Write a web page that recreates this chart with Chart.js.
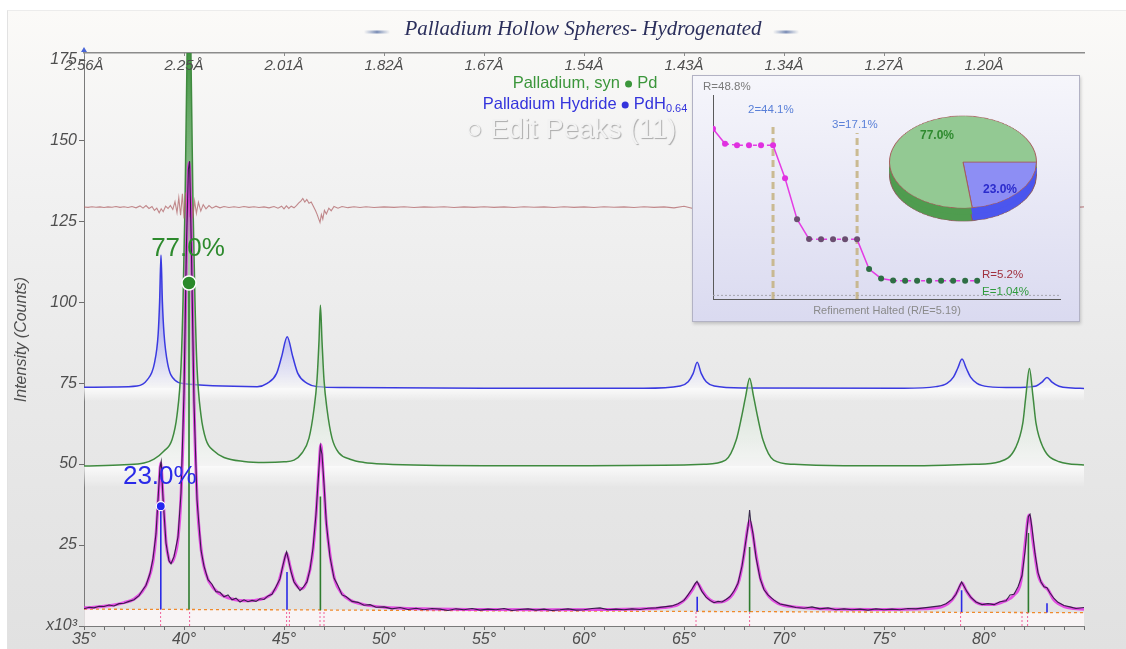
<!DOCTYPE html>
<html>
<head>
<meta charset="utf-8">
<script src="https://cdn.jsdelivr.net/npm/chart.js@4.4.1/dist/chart.umd.min.js"></script>
<style>
  html, body { margin: 0; padding: 0; background: #fff; }
  #wrap { position: relative; width: 1126px; height: 649px; overflow: hidden; }
  #panel { position: absolute; left: 7px; top: 10px; width: 1119px; height: 639px;
           background: linear-gradient(#fbfaf8 0%, #f2f2f2 25%, #e9e9e9 58%, #e1e1e1 100%);
           border-left: 1px solid #e2e2e2; border-top: 1px solid #ececec; }
  #main { position: absolute; left: 0; top: 0; }
  #inset { position: absolute; left: 692px; top: 75px; width: 386px; height: 245px;
           border: 1px solid #b2b2c4; background: linear-gradient(#f6f6fb, #dadaf0);
           box-shadow: 1px 2px 3px rgba(0,0,0,0.18); }
  .pie { position: absolute; left: 195px; transform: scaleY(0.627); transform-origin: 50% 50%; }
  #rchart { position: absolute; left: 0; top: 0; }
</style>
</head>
<body>
<div id="wrap">
  <div id="panel"></div>
  <canvas id="main" width="1126" height="649"></canvas>
  <div id="inset">
    <canvas class="pie" id="pieSide2" width="150" height="150" style="top:24px"></canvas>
    <canvas class="pie" id="pieSide1" width="150" height="150" style="top:17px"></canvas>
    <canvas class="pie" id="pieTop" width="150" height="150" style="top:11px"></canvas>
    <canvas id="rchart" width="386" height="245"></canvas>
  </div>
</div>
<script>
/* XRD refinement view: Pd / PdH(0.64) hollow spheres, 2-theta scan 35..85 deg */
const SANS = "Arial, 'Liberation Sans', sans-serif";
const SERIF = "'Times New Roman', 'Liberation Serif', serif";
const AXIS_TEXT = '#4e4e4e';

const X_MIN = 35, X_MAX = 85, Y_MAX = 176.9;   // intensity in thousands of counts
const Y_TICKS = [0, 25, 50, 75, 100, 125, 150, 175];

// top axis: d-spacing at the 2-theta major ticks
const TOP_TICKS = [35, 40, 45, 50, 55, 60, 65, 70, 75, 80];
const D_SPACING = ['2.56Å', '2.25Å', '2.01Å', '1.82Å', '1.67Å', '1.54Å', '1.43Å', '1.34Å', '1.27Å', '1.20Å'];

// observed scan [2theta, kcounts]
const OBS = [
  [35.0,5.3],[35.25,5.8],[35.5,5.6],[35.75,6.1],[36.0,6.0],[36.25,6.5],[36.5,6.2],[36.75,6.9],[37.0,7.0],
  [37.25,7.6],[37.5,8.1],[37.75,9.4],[37.9,10.8],[38.1,12.6],[38.3,16.2],[38.45,20.8],[38.6,28.5],
  [38.72,41],[38.8,49],[38.86,50.8],[38.95,39.5],[39.1,25.6],[39.25,20.1],[39.35,19.2],[39.5,21.4],
  [39.7,27.5],[39.85,41],[40.0,72],[40.12,117],[40.22,141],[40.28,143.5],[40.38,113],[40.5,69],
  [40.65,39],[40.85,23.4],[41.0,18.5],[41.2,14.3],[41.4,12.9],[41.6,10.6],[41.8,10.4],[42.0,9.0],
  [42.2,9.6],[42.4,8.1],[42.6,8.6],[42.8,7.4],[43.0,8.1],[43.2,7.5],[43.4,7.9],[43.6,7.6],[43.8,8.4],
  [44.0,8.2],[44.2,9.3],[44.4,9.8],[44.6,12.1],[44.8,14.6],[44.95,18.9],[45.05,21.3],[45.13,22.9],
  [45.22,20.6],[45.35,16.8],[45.5,13.6],[45.65,12.3],[45.8,10.9],[45.95,11.9],[46.15,13.6],[46.3,17.5],
  [46.45,24],[46.6,34.5],[46.72,46],[46.82,55.5],[46.9,53],[47.0,44],[47.12,31.5],[47.3,21.3],
  [47.5,14.8],[47.7,12.4],[47.9,9.6],[48.1,9.1],[48.4,7.6],[48.7,7.3],[49.0,6.4],[49.3,6.6],[49.6,5.8],
  [50.0,5.9],[50.4,5.3],[50.8,5.7],[51.2,5.1],[51.6,5.5],[52.0,5.0],[52.4,5.4],[52.8,5.2],[53.2,4.8],
  [53.6,5.3],[54.0,5.0],[54.4,5.4],[54.8,4.9],[55.2,5.2],[55.6,5.0],[56.0,5.4],[56.4,4.8],[56.8,5.1],
  [57.2,5.3],[57.6,4.9],[58.0,5.2],[58.4,4.8],[58.8,5.0],[59.2,5.3],[59.6,4.9],[60.0,5.0],[60.4,5.4],
  [60.8,5.6],[61.2,5.0],[61.6,5.2],[62.0,5.0],[62.4,5.3],[62.8,5.1],[63.2,5.5],[63.6,5.6],[64.0,5.9],
  [64.4,6.2],[64.7,6.9],[65.0,7.9],[65.2,9.6],[65.4,11.4],[65.55,13.0],[65.65,13.8],[65.75,12.6],
  [65.9,10.6],[66.1,8.9],[66.3,7.9],[66.5,7.2],[66.7,7.6],[66.9,7.4],[67.1,8.2],[67.3,9.1],[67.5,10.8],
  [67.7,13.2],[67.9,18.5],[68.05,24.5],[68.2,30.5],[68.28,35.8],[68.33,32.6],[68.45,28.5],[68.6,21.2],
  [68.8,14.8],[69.0,11.2],[69.2,9.6],[69.5,8.0],[69.8,6.8],[70.2,6.3],[70.6,5.7],[71.0,5.5],[71.4,5.9],
  [71.8,5.3],[72.2,5.6],[72.6,5.0],[73.0,5.3],[73.4,5.0],[73.8,5.2],[74.2,4.9],[74.6,5.3],[75.0,5.0],
  [75.4,5.2],[75.8,5.0],[76.2,5.4],[76.6,5.3],[77.0,5.6],[77.4,5.9],[77.8,6.2],[78.1,6.9],[78.4,8.2],
  [78.6,9.8],[78.75,12.0],[78.88,13.6],[79.0,12.3],[79.15,10.6],[79.35,8.8],[79.6,7.4],[79.9,6.6],
  [80.2,6.9],[80.5,6.6],[80.8,7.5],[81.1,7.8],[81.3,9.6],[81.5,9.8],[81.7,12.1],[81.9,15.5],[82.05,23],
  [82.15,30],[82.22,33.8],[82.3,34.5],[82.4,30.2],[82.55,22.4],[82.7,16.5],[82.85,13.6],[83.0,12.1],
  [83.15,11.8],[83.3,10.2],[83.5,8.5],[83.7,7.3],[84.0,6.3],[84.3,5.9],[84.6,5.4],[85.0,5.7]
];

// calculated profile
const CALC = [
  [35.0,5.6],[35.5,5.8],[36.0,6.1],[36.5,6.5],[37.0,7.2],[37.5,8.3],[37.9,10.5],[38.2,14],[38.45,20],
  [38.6,28],[38.72,40],[38.84,50.3],[38.95,40],[39.1,26],[39.25,20.5],[39.35,19.6],[39.5,21],[39.7,27],
  [39.85,40],[40.0,70],[40.12,115],[40.25,143],[40.38,115],[40.5,70],[40.65,40],[40.85,24],[41.1,16],
  [41.5,11.5],[42.0,9.2],[42.5,8.2],[43.0,7.8],[43.5,7.9],[44.0,8.5],[44.4,10],[44.7,13],[44.95,18.5],
  [45.13,22.5],[45.3,18.5],[45.5,14],[45.7,12],[45.9,11.5],[46.15,14],[46.4,21],[46.6,34],[46.74,48],
  [46.84,56],[46.95,48],[47.1,33],[47.3,22],[47.55,14],[47.9,10],[48.3,8],[49.0,6.6],[50.0,5.8],
  [52.0,5.3],[55.0,5.1],[58.0,5.0],[61.0,5.1],[63.0,5.3],[64.0,5.7],[64.7,6.6],[65.1,8.5],[65.4,11],
  [65.65,13.3],[65.9,11],[66.2,8.6],[66.6,7.3],[67.0,7.6],[67.4,9.5],[67.75,14],[68.0,22],[68.15,29],
  [68.28,32.5],[68.42,29],[68.6,22],[68.85,14],[69.2,9.5],[69.7,7],[70.5,5.9],[72.0,5.3],[75.0,5.1],
  [77.0,5.3],[78.0,6.2],[78.4,8],[78.7,11],[78.9,13.3],[79.1,11],[79.4,8.4],[79.8,6.8],[80.4,6.6],
  [81.0,7.6],[81.5,9.5],[81.85,14],[82.05,25],[82.25,34.3],[82.45,26],[82.7,16],[83.0,12.3],[83.2,11.2],
  [83.5,8],[84.0,6],[84.5,5.4],[85.0,5.2]
];

// refined background
const BKG = [[35,5.2],[45,5.0],[55,4.7],[65,4.5],[75,4.3],[85,4.1]];

// observed minus calculated, plotted offset at ~129k
const DIFF = [
  [35.0,129.35],[35.2,129.25],[35.4,129.45],[35.6,129.3],[35.8,129.4],[36.0,129.2],[36.2,129.4],[36.4,129.3],
  [36.6,129.5],[36.8,129.25],[37.0,129.45],[37.2,129.2],[37.4,129.5],[37.6,129.1],[37.8,129.7],[37.95,129.0],
  [38.1,129.8],[38.25,128.9],[38.4,129.5],[38.52,128.3],[38.64,129.0],[38.76,127.6],[38.86,128.8],[38.96,127.9],
  [39.08,129.6],[39.2,128.9],[39.32,129.8],[39.44,128.6],[39.55,131.0],[39.65,127.6],[39.74,132.2],[39.83,126.8],
  [39.92,133.4],[40.0,125.8],[40.08,133.8],[40.15,125.2],[40.22,131.8],[40.29,126.2],[40.36,132.6],[40.44,125.8],
  [40.53,131.2],[40.62,127.4],[40.72,130.8],[40.84,128.1],[40.96,130.1],[41.1,128.8],[41.25,129.8],[41.4,129.0],
  [41.6,129.6],[41.8,129.1],[42.0,129.5],[42.25,129.2],[42.5,129.45],[42.75,129.2],[43.0,129.5],[43.25,129.25],
  [43.5,129.45],[43.75,129.2],[44.0,129.4],[44.25,129.1],[44.5,129.5],[44.7,129.0],[44.88,129.6],[45.0,128.8],
  [45.12,129.7],[45.24,128.9],[45.36,129.6],[45.5,129.1],[45.62,129.8],[45.74,130.6],[45.84,131.2],[45.94,132.0],
  [46.04,130.9],[46.14,131.7],[46.25,130.5],[46.36,130.9],[46.48,129.4],[46.58,128.2],[46.66,127.0],[46.74,125.6],
  [46.8,124.6],[46.87,127.0],[46.94,125.6],[47.02,128.3],[47.12,127.2],[47.24,129.0],[47.36,128.2],[47.5,129.5],
  [47.7,129.0],[47.9,129.5],[48.2,129.15],[48.5,129.45],[48.8,129.2],[49.1,129.45],[49.5,129.2],[50.0,129.4],
  [50.5,129.25],[51.0,129.45],[51.5,129.2],[52.0,129.4],[52.5,129.3],[53.0,129.45],[53.5,129.2],[54.0,129.4],
  [54.5,129.25],[55.0,129.45],[55.5,129.25],[56.0,129.4],[56.5,129.2],[57.0,129.45],[57.5,129.3],[58.0,129.4],
  [58.5,129.2],[59.0,129.45],[59.5,129.25],[60.0,129.4],[60.5,129.2],[61.0,129.45],[61.5,129.3],[62.0,129.4],
  [62.5,129.2],[63.0,129.45],[63.5,129.25],[64.0,129.4],[64.5,129.1],[65.0,129.6],[65.5,128.8],[66.0,129.6],
  [70.0,129.3],[75.0,129.3],[80.0,129.3],[84.5,129.2],[85.0,129.4]
];

// Pd (syn) reference pattern, offset to ~49k
const PD_BASE = 49.4;
const PD_PATTERN = [
  [35.0,49.4],[37.0,49.8],[38.0,50.3],[38.5,51.5],[39.0,54],[39.4,57.5],[39.65,65],[39.85,80],[39.95,100],
  [40.05,130],[40.15,175],[40.25,230],[40.35,175],[40.45,130],[40.55,100],[40.65,80],[40.85,65],[41.1,57.5],
  [41.5,54],[42.0,52],[43.0,50.8],[44.0,50.5],[45.0,50.7],[45.5,51.2],[45.9,53.4],[46.25,58],[46.5,67],
  [46.65,76],[46.75,88],[46.82,99],[46.9,88],[47.0,76],[47.15,67],[47.4,58],[47.75,53.4],[48.3,51.5],
  [49.0,50.5],[50.0,50.0],[55.0,49.5],[60.0,49.5],[64.0,49.6],[66.0,49.9],[67.08,51.2],[67.61,57.4],
  [67.88,64.6],[68.08,70.8],[68.28,76.5],[68.48,70.8],[68.68,64.6],[68.95,57.4],[69.48,51.2],[70.5,49.9],
  [73.0,49.5],[77.0,49.5],[79.5,49.9],[80.77,50.7],[81.6,55.3],[81.94,62.6],[82.09,70.8],[82.27,79.5],
  [82.45,70.8],[82.6,62.6],[82.94,55.3],[83.77,50.7],[85.0,49.7]
];

// PdH(0.64) reference pattern, offset to ~73.5k
const PDH_BASE = 73.5;
const PDH_PATTERN = [
  [35.0,73.7],[36.5,73.8],[37.65,74.1],[38.15,75.9],[38.52,81.1],[38.71,90.3],[38.78,100],[38.85,114.5],
  [38.92,100],[39.0,90.3],[39.18,81.1],[39.55,75.9],[40.05,74.8],[40.6,74.5],[42.5,74.0],[43.66,73.9],
  [44.16,74.9],[44.63,78],[44.88,83.1],[45.16,89.3],[45.44,83.1],[45.69,78],[46.16,74.9],[46.66,73.9],
  [48.0,73.6],[55.0,73.4],[63.0,73.4],[64.81,74.1],[65.21,75.4],[65.46,78],[65.66,81.4],[65.86,78],
  [66.11,75.4],[66.51,74.1],[68.0,73.5],[76.0,73.4],[77.6,73.9],[78.15,74.9],[78.48,76.9],[78.68,79.5],
  [78.9,82.4],[79.12,79.5],[79.32,76.9],[79.65,74.9],[80.2,73.9],[81.5,73.6],[82.55,74],[82.9,75.3],
  [83.15,76.75],[83.4,75.3],[83.75,74],[84.4,73.5],[85.0,73.35]
];

// reference sticks (base -> top, kcounts)
const PD_STICK_X = [40.25, 46.82, 68.28, 82.22];
const PD_STICK_TOP = [105.9, 40, 24.4, 28.7];
const PD_STICK_BASE = [5.1, 4.9, 4.4, 4.2];
const PDH_STICK_X = [38.84, 45.15, 65.66, 78.88, 83.15];
const PDH_STICK_TOP = [37, 16.7, 9, 11, 7];
const PDH_STICK_BASE = [5.1, 5.0, 4.5, 4.3, 4.2];

// fitted peak positions (11), marked below the background
const PEAK_POS = [38.83, 40.28, 45.13, 45.27, 46.8, 47.0, 65.6, 68.28, 78.83, 81.9, 82.18];
const PEAK_MARK_TOP = [5.1, 5.1, 5.0, 5.0, 4.9, 4.9, 4.5, 4.4, 4.3, 4.2, 4.2];

// phase fractions and their markers on the pattern
const PHASES = ['Palladium, syn', 'Palladium Hydride'];
const PHASE_FORMULA = ['Pd', 'PdH'];
const PHASE_PCT = [77.0, 23.0];
const PHASE_MARK_X = [40.25, 38.84];
const PHASE_MARK_Y = [105.9, 37];

// refinement convergence (R %, per cycle)
const R_VALUES = [48.8, 44.5, 44.1, 44.1, 44.1, 44.1, 34.6, 22.9, 17.2, 17.1, 17.1, 17.1, 17.1,
                  8.6, 5.9, 5.3, 5.2, 5.2, 5.2, 5.2, 5.2, 5.2, 5.2];
const R_STAGE_AT = [5, 12];
const R_STAGE_TOP = [49.9, 47.6];
const R_STAGE_LABELS = ['2=44.1%', '3=17.1%'];
const E_VALUE = 1.04;

const pts = arr => arr.map(([x, y]) => ({ x, y }));
function sticks(xs, tops, bases) {
  const out = [];
  xs.forEach((x, i) => { out.push({ x, y: bases[i] }, { x, y: tops[i] }, { x, y: null }); });
  return out;
}

function vGrad(chart, vTop, vBot, stops) {
  const { ctx, chartArea, scales } = chart;
  if (!chartArea) return null;
  const g = ctx.createLinearGradient(0, scales.y.getPixelForValue(vTop), 0, scales.y.getPixelForValue(vBot));
  stops.forEach(([o, c]) => g.addColorStop(o, c));
  return g;
}

function label(ctx, s, x, y, font, color, align) {
  ctx.font = font;
  ctx.fillStyle = color;
  ctx.textAlign = align || 'center';
  ctx.textBaseline = 'middle';
  ctx.fillText(s, x, y);
}

const decor = {
  id: 'decor',
  beforeDatasetsDraw(chart) {
    const { ctx, chartArea: a, scales: { y } } = chart;
    ctx.save();
    ctx.beginPath();
    ctx.rect(a.left, a.top, a.right - a.left, a.bottom - a.top);
    ctx.clip();
    // soft light band under each offset reference pattern
    [[PDH_BASE, 14], [PD_BASE, 22]].forEach(([v, h]) => {
      const py = y.getPixelForValue(v);
      const g = ctx.createLinearGradient(0, py, 0, py + h);
      g.addColorStop(0, 'rgba(255,255,255,0.8)');
      g.addColorStop(1, 'rgba(255,255,255,0)');
      ctx.fillStyle = g;
      ctx.fillRect(a.left, py, a.right - a.left, h);
    });
    ctx.restore();
  },
  afterDraw(chart) {
    const { ctx, chartArea: a, scales: { xTop, x, y } } = chart;
    ctx.save();

    // title with its two soft dashes
    label(ctx, 'Palladium Hollow Spheres- Hydrogenated', 583, 29, 'italic 21px ' + SERIF, '#2b2f5c');
    [[364, 390], [773, 799]].forEach(([x0, x1]) => {
      const g = ctx.createLinearGradient(x0, 0, x1, 0);
      g.addColorStop(0, 'rgba(120,140,180,0)');
      g.addColorStop(0.5, 'rgba(110,130,175,0.9)');
      g.addColorStop(1, 'rgba(120,140,180,0)');
      ctx.strokeStyle = g;
      ctx.lineWidth = 3;
      ctx.beginPath(); ctx.moveTo(x0, 32); ctx.lineTo(x1, 32); ctx.stroke();
    });

    // d-spacing labels under the top axis
    TOP_TICKS.forEach((v, i) => {
      const px = xTop.getPixelForValue(v);
      label(ctx, D_SPACING[i], px, 66, 'italic 15px ' + SANS, AXIS_TEXT);
      ctx.strokeStyle = '#8a8a8a'; ctx.lineWidth = 1;
      ctx.beginPath(); ctx.moveTo(px + 0.5, a.top); ctx.lineTo(px + 0.5, a.top + 3); ctx.stroke();
    });

    // small axis marker at the origin of the top axis
    ctx.fillStyle = '#4a66d8';
    ctx.beginPath(); ctx.moveTo(a.left - 3, a.top - 1); ctx.lineTo(a.left + 3, a.top - 1); ctx.lineTo(a.left, a.top - 6); ctx.fill();

    // phase legend
    const legend = [
      { name: PHASES[0], f: PHASE_FORMULA[0], sub: '', color: '#3b963b', y: 83 },
      { name: PHASES[1], f: PHASE_FORMULA[1], sub: '0.64', color: '#3434dc', y: 104 }
    ];
    legend.forEach(l => {
      const big = '16.5px ' + SANS, small = '11px ' + SANS;
      ctx.font = big;
      const w1 = ctx.measureText(l.name + ' ').width;
      const w3 = ctx.measureText(' ' + l.f).width;
      ctx.font = small;
      const w4 = l.sub ? ctx.measureText(l.sub).width : 0;
      const wb = 8;
      let px = 585 - (w1 + wb + w3 + w4) / 2;
      label(ctx, l.name + ' ', px, l.y, big, l.color, 'left');
      ctx.fillStyle = l.color;
      ctx.beginPath(); ctx.arc(px + w1 + wb / 2, l.y + 1, 3.5, 0, Math.PI * 2); ctx.fill();
      label(ctx, ' ' + l.f, px + w1 + wb, l.y, big, l.color, 'left');
      if (l.sub) label(ctx, l.sub, px + w1 + wb + w3, l.y + 5, small, l.color, 'left');
    });

    // embossed peak editor caption
    ctx.shadowColor = 'rgba(0,0,0,0.3)';
    ctx.shadowOffsetX = 1; ctx.shadowOffsetY = 1; ctx.shadowBlur = 1;
    label(ctx, '○ Edit Peaks (11)', 571, 130, '27.5px ' + SANS, '#f2f2f2');
    ctx.shadowColor = 'transparent';

    // phase fraction labels above their markers
    const pc = ['#2d8a2d', '#2a2ae8'];
    PHASE_MARK_X.forEach((mx, i) => {
      const px = x.getPixelForValue(mx), py = y.getPixelForValue(PHASE_MARK_Y[i]);
      label(ctx, PHASE_PCT[i].toFixed(1) + '%', px - 1, py - (i === 0 ? 34 : 29), '26px ' + SANS, pc[i]);
    });
    ctx.restore();
  }
};

Chart.defaults.font.family = SANS;
Chart.defaults.animation = false;

const mainChart = new Chart(document.getElementById('main'), {
  type: 'line',
  data: {
    datasets: [
      {
        label: 'phase markers', data: PHASE_MARK_X.map((v, i) => ({ x: v, y: PHASE_MARK_Y[i] })),
        showLine: false, order: 0,
        pointRadius: [7, 4.5], pointBackgroundColor: ['#2a8a2a', '#2626f0'],
        pointBorderColor: '#ffffff', pointBorderWidth: [1.5, 1.2]
      },
      {
        label: 'observed', data: pts(OBS), order: 1,
        borderColor: 'rgba(38,22,58,0.9)', borderWidth: 1.1, pointRadius: 0, tension: 0
      },
      {
        label: 'calculated', data: pts(CALC), order: 2,
        borderColor: 'rgba(226,52,226,0.85)', borderWidth: 3, pointRadius: 0,
        cubicInterpolationMode: 'monotone'
      },
      {
        label: 'Pd sticks', data: sticks(PD_STICK_X, PD_STICK_TOP, PD_STICK_BASE), order: 3,
        borderColor: '#2e7c2e', borderWidth: 1.6, pointRadius: 0, spanGaps: false
      },
      {
        label: 'PdH sticks', data: sticks(PDH_STICK_X, PDH_STICK_TOP, PDH_STICK_BASE), order: 3,
        borderColor: '#2b2be6', borderWidth: 1.6, pointRadius: 0, spanGaps: false
      },
      {
        label: 'peak marks', data: sticks(PEAK_POS, PEAK_MARK_TOP, PEAK_POS.map(() => 0)), order: 3,
        borderColor: '#f0609a', borderWidth: 1, borderDash: [2, 2], pointRadius: 0, spanGaps: false
      },
      {
        label: 'background', data: pts(BKG), order: 4,
        borderColor: '#f08a2c', borderWidth: 1.3, borderDash: [3, 3], pointRadius: 0,
        fill: 'origin', backgroundColor: 'rgba(255,249,251,0.75)'
      },
      {
        label: 'difference', data: pts(DIFF), order: 5,
        borderColor: 'rgba(176,100,104,0.75)', borderWidth: 1.1, pointRadius: 0, tension: 0
      },
      {
        label: 'Pd pattern', data: pts(PD_PATTERN), order: 6,
        borderColor: '#3f8a3f', borderWidth: 1.5, pointRadius: 0, cubicInterpolationMode: 'monotone',
        fill: { value: PD_BASE },
        backgroundColor: c => vGrad(c.chart, Y_MAX, PD_BASE, [
          [0, 'rgba(46,138,46,0.9)'], [0.45, 'rgba(90,165,90,0.5)'], [1, 'rgba(255,255,255,0.55)']])
      },
      {
        label: 'PdH pattern', data: pts(PDH_PATTERN), order: 7,
        borderColor: '#3a3ae0', borderWidth: 1.5, pointRadius: 0, cubicInterpolationMode: 'monotone',
        fill: { value: PDH_BASE },
        backgroundColor: c => vGrad(c.chart, 115, PDH_BASE, [
          [0, 'rgba(60,60,240,0.75)'], [0.5, 'rgba(120,120,245,0.45)'], [1, 'rgba(255,255,255,0.55)']])
      }
    ]
  },
  options: {
    responsive: false,
    layout: { padding: { left: 0, right: 42, top: 0, bottom: 0 } },
    plugins: { legend: { display: false }, tooltip: { enabled: false } },
    scales: {
      x: {
        type: 'linear', position: 'bottom', min: X_MIN, max: X_MAX,
        afterFit: s => { s.height = 23; },
        ticks: {
          stepSize: 1, autoSkip: false, maxRotation: 0, padding: 0, color: AXIS_TEXT,
          font: { size: 16, style: 'italic' },
          callback: v => (v % 5 === 0 && v < X_MAX) ? v + '°' : ''
        },
        grid: { drawOnChartArea: false, tickLength: 4, color: '#6e6e6e' },
        border: { color: '#7a7a7a', width: 1 }
      },
      xTop: {
        type: 'linear', position: 'top', min: X_MIN, max: X_MAX,
        afterFit: s => { s.height = 53; },
        ticks: { display: false }, grid: { display: false },
        border: { display: true, color: '#8c8c8c', width: 1.5 }
      },
      y: {
        type: 'linear', min: 0, max: Y_MAX,
        afterFit: s => { s.width = 84; },
        afterBuildTicks: s => { s.ticks = Y_TICKS.map(v => ({ value: v })); },
        ticks: {
          padding: 2, color: AXIS_TEXT, font: { size: 16, style: 'italic' },
          callback: v => v === 0 ? 'x10³' : v
        },
        grid: { drawOnChartArea: false, tickLength: 5, color: '#6e6e6e' },
        border: { color: '#7a7a7a', width: 1 },
        title: {
          display: true, text: 'Intensity (Counts)', color: AXIS_TEXT,
          font: { size: 16, style: 'italic' }, padding: { top: 12, bottom: 0 }
        }
      }
    }
  },
  plugins: [decor]
});

// phase fraction pie, stacked layers give the extruded edge
function pie(id, colors, border) {
  return new Chart(document.getElementById(id), {
    type: 'pie',
    data: { labels: [PHASES[1], PHASES[0]], datasets: [{
      data: [PHASE_PCT[1], PHASE_PCT[0]], backgroundColor: colors,
      borderColor: border, borderWidth: border ? 1 : 0
    }] },
    options: {
      responsive: false, rotation: 90, layout: { padding: 1 },
      plugins: { legend: { display: false }, tooltip: { enabled: false } }
    }
  });
}
pie('pieSide2', ['#4b56ee', '#4f9c4f'], '#8c5a5a');
pie('pieSide1', ['#4b56ee', '#4f9c4f'], null);
pie('pieTop', ['#8d8ef4', '#93c993'], '#a65c5c');

const rDecor = {
  id: 'rDecor',
  afterDraw(chart) {
    const { ctx } = chart;
    ctx.save();
    const f = '11.5px ' + SANS;
    label(ctx, 'R=' + R_VALUES[0] + '%', 10, 11, f, '#7a7a7a', 'left');
    label(ctx, R_STAGE_LABELS[0], 55, 34, f, '#5a80d8', 'left');
    label(ctx, R_STAGE_LABELS[1], 139, 49, f, '#5a80d8', 'left');
    label(ctx, 'R=' + R_VALUES[R_VALUES.length - 1] + '%', 289, 199, f, '#a0303e', 'left');
    label(ctx, 'E=' + E_VALUE + '%', 289, 216, f, '#2f9a3c', 'left');
    label(ctx, 'Refinement Halted (R/E=5.19)', 194, 235, '11px ' + SANS, '#8a8a8a');
    label(ctx, PHASE_PCT[0].toFixed(1) + '%', 244, 60, 'bold 12px ' + SANS, '#2f8a2f');
    label(ctx, PHASE_PCT[1].toFixed(1) + '%', 307, 114, 'bold 12px ' + SANS, '#2b2bcc');
    ctx.restore();
  }
};

const pointColors = R_VALUES.map((v, i) => i <= 6 ? '#e030e0' : (i <= 12 ? '#6a4e70' : '#2e6e44'));

new Chart(document.getElementById('rchart'), {
  type: 'line',
  data: {
    datasets: [
      {
        label: 'R', data: R_VALUES.map((v, i) => ({ x: i, y: v })),
        borderColor: '#e43ce4', borderWidth: 1.5,
        pointRadius: 3, pointBackgroundColor: pointColors, pointBorderWidth: 0,
        segment: { borderDash: c => Math.abs(c.p0.parsed.y - c.p1.parsed.y) < 0.5 ? [4, 3] : undefined }
      },
      ...R_STAGE_AT.map((s, i) => ({
        label: 'stage ' + (i + 2), data: [{ x: s, y: 0 }, { x: s, y: R_STAGE_TOP[i] }],
        borderColor: 'rgba(196,178,128,0.85)', borderWidth: 3, borderDash: [7, 4], pointRadius: 0
      })),
      {
        label: 'E', data: [{ x: 0, y: E_VALUE }, { x: 28.9, y: E_VALUE }],
        borderColor: '#a4a4ae', borderWidth: 1, borderDash: [2, 2], pointRadius: 0
      }
    ]
  },
  options: {
    responsive: false,
    layout: { padding: { left: 20, right: 19, top: 19, bottom: 22 } },
    plugins: { legend: { display: false }, tooltip: { enabled: false } },
    scales: {
      x: { type: 'linear', min: 0, max: 28.9, afterFit: s => { s.height = 0; },
           ticks: { display: false }, grid: { display: false }, border: { color: '#5a5a5a', width: 1 } },
      y: { type: 'linear', min: 0, max: 58.5, afterFit: s => { s.width = 0; },
           ticks: { display: false }, grid: { display: false }, border: { color: '#5a5a5a', width: 1 } }
    }
  },
  plugins: [rDecor]
});
</script>
</body>
</html>
